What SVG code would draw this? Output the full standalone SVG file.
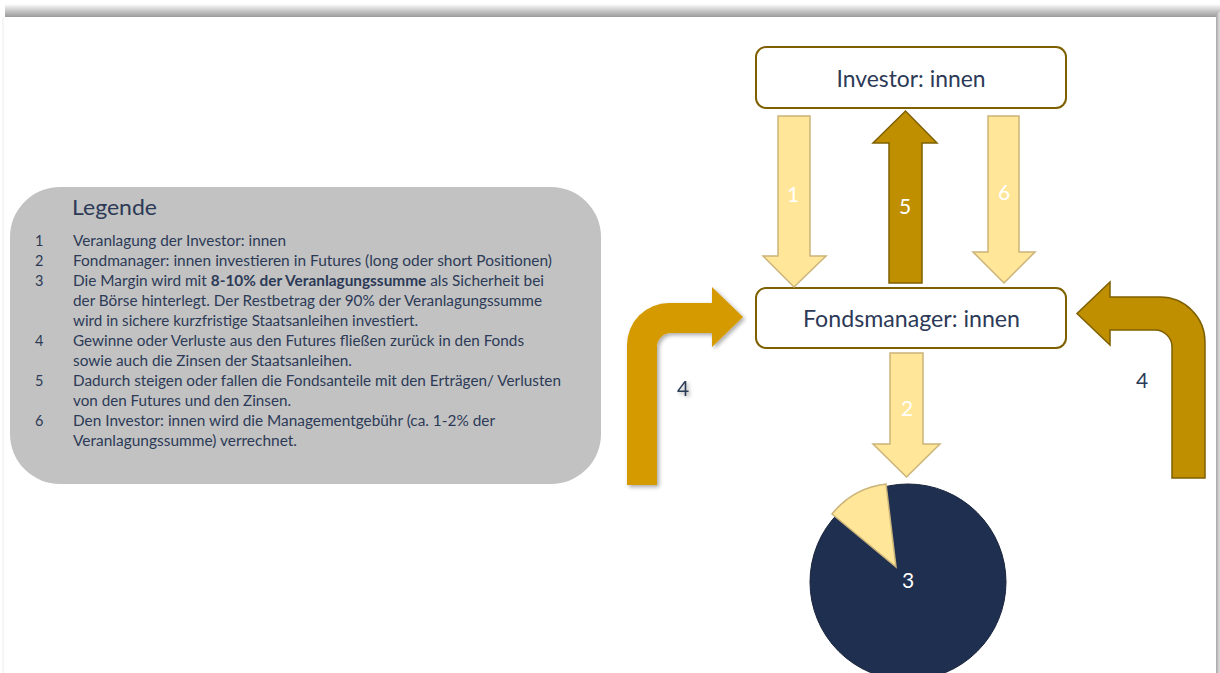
<svg xmlns="http://www.w3.org/2000/svg" width="1220" height="673" viewBox="0 0 1220 673">
  <defs>
    <style>
      .navy { fill: #2c3a57; font-family: Lato, "Liberation Sans", sans-serif; }
      .legend { font-size: 14.5px; }
      .box { fill: #ffffff; stroke: #7f6000; stroke-width: 2; }
      .boxlabel { font-size: 23px; text-anchor: middle; }
      .light { fill: #ffe699; stroke: #cbb47a; stroke-width: 1.5; stroke-linejoin: miter; }
      .dark { fill: #bf8f00; stroke: #7f6000; stroke-width: 1.5; }
      .num { fill: #ffffff; font-family: Lato, "Liberation Sans", sans-serif; font-size: 21px; text-anchor: middle; }
    </style>
    <linearGradient id="topShade" x1="0" y1="0" x2="0" y2="1">
      <stop offset="0" stop-color="#ffffff"/>
      <stop offset="0.55" stop-color="#c4c4c4"/>
      <stop offset="1" stop-color="#9a9a9a"/>
    </linearGradient>
    <linearGradient id="rightShade" x1="0" y1="0" x2="1" y2="0">
      <stop offset="0" stop-color="#a8a8a8"/>
      <stop offset="1" stop-color="#e0e0e0"/>
    </linearGradient>
    <filter id="softShadow" x="-20%" y="-20%" width="140%" height="140%">
      <feGaussianBlur in="SourceAlpha" stdDeviation="2"/>
      <feOffset dx="1.5" dy="2" result="off"/>
      <feComponentTransfer><feFuncA type="linear" slope="0.35"/></feComponentTransfer>
      <feMerge><feMergeNode/><feMergeNode in="SourceGraphic"/></feMerge>
    </filter>
  </defs>

  <!-- page and its shadow -->
  <rect x="0" y="0" width="1220" height="673" fill="#ffffff"/>
  <rect x="5" y="4" width="1215" height="13" fill="url(#topShade)"/>
  <rect x="1216" y="12" width="4" height="661" fill="url(#rightShade)"/>
  <line x1="3" y1="17" x2="3" y2="673" stroke="#ececec" stroke-width="1"/>

  <!-- legend panel -->
  <g id="legend">
    <rect x="10" y="187" width="591" height="297" rx="50" ry="50" fill="#c2c2c2"/>
    <text class="navy" x="72" y="215" font-size="20.5" textLength="85" lengthAdjust="spacingAndGlyphs">Legende</text>
    <g class="navy legend">
      <text x="35" y="246">1</text>
      <text x="73" y="246" textLength="213" lengthAdjust="spacingAndGlyphs">Veranlagung der Investor: innen</text>
      <text x="35" y="266">2</text>
      <text x="73" y="266" textLength="479" lengthAdjust="spacingAndGlyphs">Fondmanager: innen investieren in Futures (long oder short Positionen)</text>
      <text x="35" y="286">3</text>
      <text x="73" y="286" textLength="471" lengthAdjust="spacingAndGlyphs">Die Margin wird mit <tspan font-weight="bold">8-10% der Veranlagungssumme</tspan> als Sicherheit bei</text>
      <text x="73" y="306" textLength="469" lengthAdjust="spacingAndGlyphs">der Börse hinterlegt. Der Restbetrag der 90% der Veranlagungssumme</text>
      <text x="73" y="326" textLength="345" lengthAdjust="spacingAndGlyphs">wird in sichere kurzfristige Staatsanleihen investiert.</text>
      <text x="35" y="346">4</text>
      <text x="73" y="346" textLength="451" lengthAdjust="spacingAndGlyphs">Gewinne oder Verluste aus den Futures fließen zurück in den Fonds</text>
      <text x="73" y="366" textLength="279" lengthAdjust="spacingAndGlyphs">sowie auch die Zinsen der Staatsanleihen.</text>
      <text x="35" y="386">5</text>
      <text x="73" y="386" textLength="488" lengthAdjust="spacingAndGlyphs">Dadurch steigen oder fallen die Fondsanteile mit den Erträgen/ Verlusten</text>
      <text x="73" y="406" textLength="218" lengthAdjust="spacingAndGlyphs">von den Futures und den Zinsen.</text>
      <text x="35" y="426">6</text>
      <text x="73" y="426" textLength="422" lengthAdjust="spacingAndGlyphs">Den Investor: innen wird die Managementgebühr (ca. 1-2% der</text>
      <text x="73" y="446" textLength="224" lengthAdjust="spacingAndGlyphs">Veranlagungssumme) verrechnet.</text>
    </g>
  </g>

  <!-- nodes -->
  <g id="investor">
    <rect class="box" x="756" y="47" width="310" height="61" rx="10" ry="10"/>
    <text class="navy boxlabel" x="911" y="87" textLength="149" lengthAdjust="spacingAndGlyphs">Investor: innen</text>
  </g>
  <g id="fondsmanager">
    <rect class="box" x="756" y="288" width="310" height="60" rx="10" ry="10"/>
    <text class="navy boxlabel" x="911.5" y="327" textLength="217" lengthAdjust="spacingAndGlyphs">Fondsmanager: innen</text>
  </g>
  <g id="portfolio">
    <circle cx="908" cy="582" r="98" fill="#1f2f4f" stroke="#17223b" stroke-width="1"/>
    <path d="M896,567 L886,484 A82,82 0 0,0 832,514 Z" class="light"/>
    <text class="num" x="908" y="588">3</text>
  </g>

  <!-- connectors -->
  <g id="connectors">
    <g id="flow-1">
      <polygon class="light" points="778,116 810,116 810,256 826,256 794,287 763,256 778,256"/>
      <text class="num" x="793" y="202">1</text>
    </g>
    <g id="flow-5">
      <polygon class="dark" points="889,283 922,283 922,143 937,143 905.5,111 873,143 889,143"/>
      <text class="num" x="905" y="214">5</text>
    </g>
    <g id="flow-6">
      <polygon class="light" points="988,116 1019,116 1019,252 1035,252 1004,283 973,252 988,252"/>
      <text class="num" x="1004" y="200">6</text>
    </g>
    <g id="flow-2">
      <polygon class="light" points="890,353 923,353 923,444 940,444 906.5,477 873,444 890,444"/>
      <text class="num" x="907" y="416">2</text>
    </g>
    <g id="flow-4-left" filter="url(#softShadow)">
      <path d="M627,485 L627,345 A42,42 0 0 1 669,303 L712,303 L712,287 L743,317 L712,347 L712,333 L671,333 A14,14 0 0 0 657,347 L657,485 Z" fill="#d49a06"/>
      <text class="navy" x="683" y="396" font-size="21" text-anchor="middle">4</text>
    </g>
    <g id="flow-4-right">
      <path d="M1205,478 L1205,342 A45,45 0 0 0 1160,297 L1110,297 L1110,282 L1077,313.5 L1110,345 L1110,330 L1155,330 A17,17 0 0 1 1172,347 L1172,478 Z" class="dark"/>
      <text class="navy" x="1142" y="388" font-size="21" text-anchor="middle">4</text>
    </g>
  </g>
</svg>
